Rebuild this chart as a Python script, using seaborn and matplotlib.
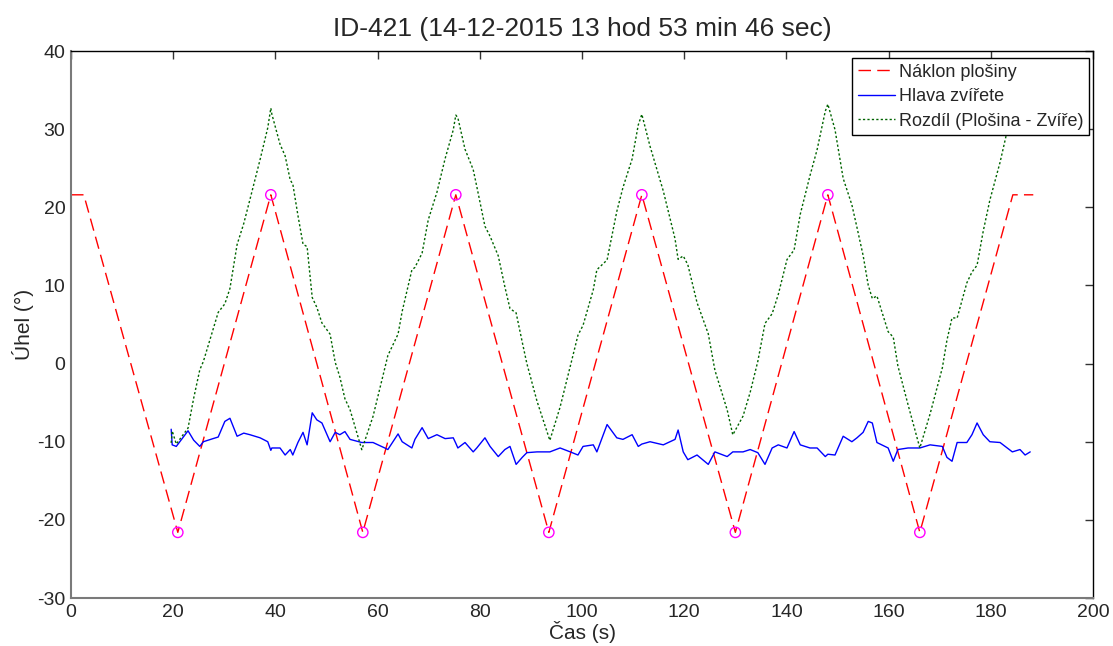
import numpy as np
import pandas as pd
import matplotlib
matplotlib.use("Agg")
import matplotlib.pyplot as plt
import seaborn as sns

# Platform tilt: turning points of the triangular motion (time [s], angle [deg])
platform_t = [0.0, 2.5, 20.9, 39.1, 57.1, 75.3, 93.5, 111.7, 130.0, 148.1, 166.1, 184.3, 188.3]
platform_angle = [21.6, 21.6, -21.6, 21.6, -21.6, 21.6, -21.6, 21.6, -21.6, 21.6, -21.6, 21.6, 21.6]

# Extremes of the platform motion marked with circles
extreme_t = [20.9, 39.1, 57.1, 75.3, 93.5, 111.7, 130.0, 148.1, 166.1]
extreme_angle = [-21.6, 21.6, -21.6, 21.6, -21.6, 21.6, -21.6, 21.6, -21.6]

# Head angle of the animal (time [s], angle [deg])
head_t = [19.6, 19.8, 20.6, 22.9, 24.0, 25.2, 25.9, 27.8, 28.8, 30.1, 31.1, 32.5, 33.8,
          35.0, 37.0, 38.5, 39.1, 39.3, 40.9, 41.9, 42.9, 43.4, 44.4, 45.4, 46.2, 47.2, 48.1,
          49.1, 49.7, 50.7, 51.7, 52.6, 53.6, 54.6, 56.9, 59.1, 61.4, 62.0, 64.0, 64.8,
          66.7, 67.3, 68.7, 69.9, 71.6, 73.2, 74.8, 75.3, 75.7, 77.1, 78.7, 79.4, 81.0, 82.0,
          83.6, 84.9, 85.9, 87.1, 88.3, 89.2, 91.2, 93.7, 95.7, 97.7, 99.2, 100.2, 102.2,
          102.9, 104.9, 106.8, 108.0, 109.8, 111.0, 111.7, 113.3, 115.9, 118.2, 118.8, 119.8,
          120.7, 122.5, 124.7, 126.0, 128.4, 129.5, 131.5, 132.9, 134.4, 135.8, 137.2,
          138.4, 140.1, 141.5, 142.7, 144.6, 146.0, 147.6, 148.1, 149.5, 151.1, 152.8, 153.8,
          155.0, 156.0, 156.8, 157.7, 159.9, 160.9, 161.8, 163.8, 166.1, 168.1, 170.5,
          171.4, 172.4, 173.4, 175.3, 176.3, 177.3, 178.5, 179.8, 181.8, 183.2, 184.2,
          185.7, 186.7, 187.7]
head_angle = [-8.4, -10.4, -10.6, -8.6, -9.8, -10.6, -10.0, -9.6, -9.4, -7.4, -7.0, -9.3, -8.9,
              -9.1, -9.5, -10.0, -11.1, -10.8, -10.8, -11.7, -11.0, -11.7, -10.1, -8.8, -10.4, -6.3, -7.2,
              -7.6, -8.5, -10.0, -8.8, -9.1, -8.7, -9.7, -10.1, -10.1, -10.8, -11.0, -9.0, -10.0,
              -10.8, -9.7, -8.2, -9.6, -9.1, -9.6, -9.5, -10.2, -10.8, -10.1, -11.3, -10.8, -9.5, -10.6,
              -11.9, -11.0, -10.6, -12.9, -12.0, -11.4, -11.3, -11.3, -10.8, -11.3, -11.7, -10.6, -10.4,
              -11.3, -7.8, -9.5, -9.7, -9.1, -10.6, -10.3, -10.0, -10.4, -9.7, -8.5, -11.3,
              -12.3, -11.7, -12.9, -11.3, -11.9, -11.3, -11.3, -11.0, -11.4, -12.9, -10.8,
              -10.4, -10.8, -8.7, -10.4, -10.8, -10.8, -11.9, -11.6, -11.7, -9.3, -10.0, -9.5,
              -8.8, -7.4, -7.6, -10.1, -10.8, -12.5, -11.0, -10.8, -10.8, -10.4, -10.6,
              -12.0, -12.5, -10.1, -10.1, -9.1, -7.6, -9.1, -10.0, -10.1, -10.8, -11.3,
              -11.0, -11.7, -11.3]

x_ticks = [0, 20, 40, 60, 80, 100, 120, 140, 160, 180, 200]
y_ticks = [-30, -20, -10, 0, 10, 20, 30, 40]

title_text = "ID-421 (14-12-2015 13 hod 53 min 46 sec)"
label_platform = "Náklon plošiny"
label_head = "Hlava zvířete"
label_diff = "Rozdíl (Plošina - Zvíře)"

# Difference platform - head, with the platform angle taken on the head time base
head_t_arr = np.asarray(head_t)
platform_on_head = np.interp(head_t_arr, platform_t, platform_angle)
diff_angle = platform_on_head - np.asarray(head_angle)

platform_df = pd.DataFrame({"t": platform_t, "angle": platform_angle})
head_df = pd.DataFrame({"t": head_t, "angle": head_angle})
diff_df = pd.DataFrame({"t": head_t, "angle": diff_angle})
extreme_df = pd.DataFrame({"t": extreme_t, "angle": extreme_angle})

sns.set_style("white")
plt.rcParams["font.family"] = ["Liberation Sans", "DejaVu Sans"]
plt.rcParams["axes.unicode_minus"] = False

fig = plt.figure(figsize=(11.13, 6.46), dpi=100)
ax = fig.add_axes([0.0638, 0.0743, 0.9183, 0.8467])

sns.lineplot(data=platform_df, x="t", y="angle", ax=ax, color="#ff0000", lw=1.0,
             linestyle=(0, (9, 4.5)), estimator=None, sort=False, label=label_platform)
sns.lineplot(data=head_df, x="t", y="angle", ax=ax, color="#0000ff", lw=1.0,
             estimator=None, sort=False, label=label_head)
sns.lineplot(data=diff_df, x="t", y="angle", ax=ax, color="#006400", lw=1.0,
             linestyle=(0, (1.6, 1.6)), estimator=None, sort=False, label=label_diff)
sns.scatterplot(data=extreme_df, x="t", y="angle", ax=ax, marker="o", s=55,
                fc="none", ec="#ff00ff", linewidth=1.0, zorder=5, legend=False)

ax.set_xlim(0, 200)
ax.set_ylim(-30, 40)
ax.set_xticks(x_ticks)
ax.set_yticks(y_ticks)
ax.tick_params(axis="both", which="major", direction="in", length=6, width=1,
               labelsize=14, top=True, right=True, pad=4, color="#333333")

for side in ["top", "right"]:
    ax.spines[side].set_color("black")
    ax.spines[side].set_linewidth(1.0)
for side in ["left", "bottom"]:
    ax.spines[side].set_color("#7a7a7a")
    ax.spines[side].set_linewidth(1.5)

ax.set_title(title_text, fontsize=19, pad=11)
ax.set_xlabel("Čas (s)", fontsize=15)
ax.set_ylabel("Úhel (°)", fontsize=15)
ax.xaxis.set_label_coords(0.5, -0.042)
ax.yaxis.set_label_coords(-0.036, 0.5)

handles, labels = ax.get_legend_handles_labels()
leg = ax.legend(handles, labels, loc="upper right", fontsize=13, frameon=True,
                fancybox=False, framealpha=1.0, edgecolor="black", handlelength=2.1,
                handletextpad=0.2, borderpad=0.3, labelspacing=0.42,
                borderaxespad=0.0, bbox_to_anchor=(0.996, 0.987))
leg.get_frame().set_linewidth(1.0)

fig.savefig("out.png", dpi=100, facecolor="white")
